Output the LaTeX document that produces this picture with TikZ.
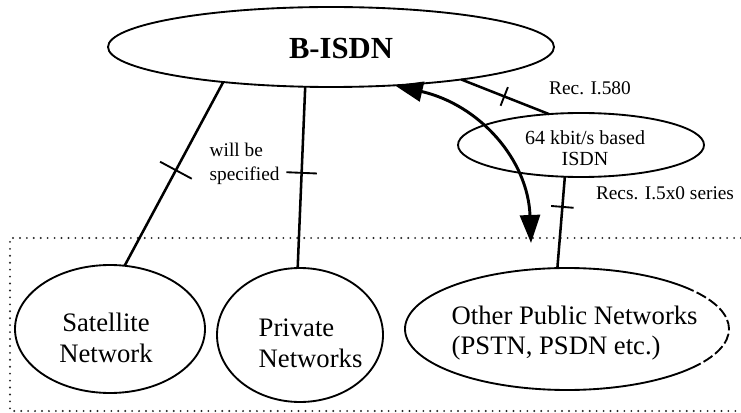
\documentclass[tikz,border=0pt]{standalone}
\usepackage{fontspec}
\setmainfont{Liberation Serif}
\usetikzlibrary{arrows.meta,shapes.geometric,calc}

\begin{document}
\begin{tikzpicture}[x=0.75pt,y=-0.75pt,
  oval/.style={ellipse, draw, line width=1.4pt, inner sep=0pt, outer sep=0pt},
  link/.style={line width=1.9pt},
  crossbar/.style={sloped, draw, line width=1.4pt, minimum width=0pt, inner sep=0pt, outer sep=0pt},
  big/.style={font=\fontsize{20}{23}\selectfont},
  small/.style={font=\fontsize{14.5}{18}\selectfont},
  twoway/.style={line width=2.2pt, {Triangle[length=21pt,width=15pt]}-{Triangle[length=21pt,width=15pt]}}
]
\useasboundingbox (0,0) rectangle (741,413);

% region of the other networks
\draw[black!85, line width=1.6pt, dash pattern=on 0pt off 5.2pt, line cap=round]
  (741,238) -- (10,238) -- (10,411) -- (741,411);

% networks
\node[oval, minimum width=334.5pt, minimum height=60pt] (bisdn) at (331,47) {};
\node[oval, minimum width=184.5pt, minimum height=48pt] (isdn64) at (581,145) {};
\node[oval, minimum width=142.5pt, minimum height=96pt] (sat) at (110,329) {};
\node[oval, minimum width=124.5pt, minimum height=100.5pt] (priv) at (300,335) {};
\node[oval, draw=none, minimum width=243pt, minimum height=91.5pt] (other) at (567,329) {};
\draw[line width=1.4pt] ($(other.center)+(40:121.5pt and 45.75pt)$)
  arc[start angle=40, end angle=320, x radius=121.5pt, y radius=45.75pt];
\draw[line width=1.4pt, dash pattern=on 8pt off 2.5pt] ($(other.center)+(-40:121.5pt and 45.75pt)$)
  arc[start angle=-40, end angle=40, x radius=121.5pt, y radius=45.75pt];

% labels
\node[font=\fontsize{23}{27}\selectfont\bfseries] (bisdnlabel) at (341,49) {B-ISDN};
\node[font=\fontsize{15}{15.5}\selectfont, align=center] (isdnlabel) at (585,148) {64 kbit/s based\\ISDN};
\node[big, align=center] (satlabel) at (106,338) {Satellite\\Network};
\node[big, align=left, anchor=west] (privlabel) at (254,343) {Private\\Networks};
\node[big, align=left, anchor=west] (otherlabel) at (447,333) {Other Public Networks\\(PSTN, PSDN etc.)};
\node[small] (rec580) at (590,88) {Rec. I.580};
\node[small] (rec5x0) at (665,193) {Recs. I.5x0 series};
\node[small, align=left, anchor=west] (spec) at (205,164) {will be\\specified};

% interfaces
\draw[link] (bisdn.198) -- node[crossbar, pos=0.48, minimum height=27pt] {} (sat.77);
\draw[link] (bisdn.237) -- node[crossbar, pos=0.475, minimum height=23pt] {} (priv.92);
\draw[link] (bisdn.346) -- node[crossbar, pos=0.49, minimum height=15pt] {} (isdn64.136);
\draw[link] (isdn64.243) -- node[crossbar, pos=0.33, minimum height=17pt] {} (other.99);

% interworking
\coordinate (drop) at (531,243);
\draw[twoway] (bisdn.329) .. controls (480,105) and (528,160) .. (drop);
\end{tikzpicture}
\end{document}
